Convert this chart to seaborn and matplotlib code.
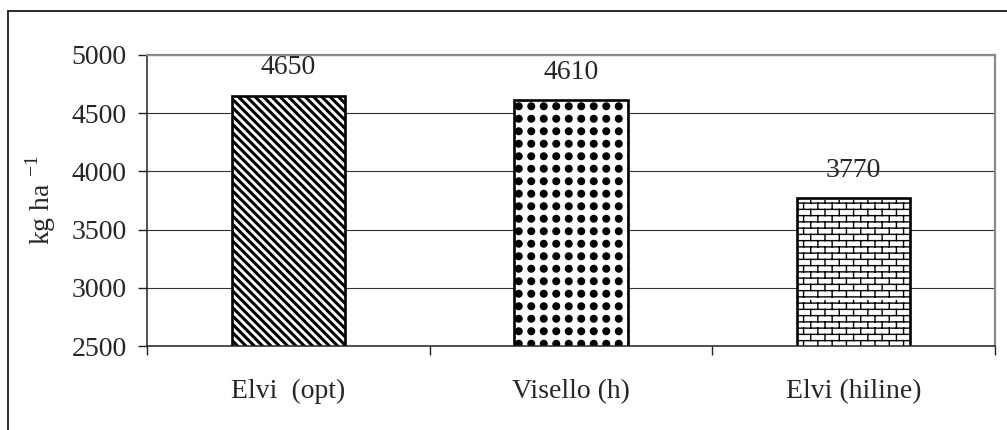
import numpy as np
import pandas as pd
import matplotlib
matplotlib.use("Agg")
import matplotlib.pyplot as plt
import matplotlib.hatch as mhatch
from matplotlib.path import Path
from matplotlib.patches import Rectangle
from matplotlib.ticker import FixedLocator
import seaborn as sns

# ---- data ----
categories = ["Elvi  (opt)", "Visello (h)", "Elvi (hiline)"]
yields = [4650, 4610, 3770]
y_ticks = [2500, 3000, 3500, 4000, 4500, 5000]
y_label = r"kg ha $^{\mathregular{-1}}$"


# ---- custom hatch textures (square dot grid for '.', bricks for '*') ----
class GridDots(mhatch.HatchPatternBase):
    def __init__(self, hatch, density):
        self.n = hatch.count('.') * 4
        circ = Path.unit_circle()
        self.sv = circ.vertices
        self.sc = circ.codes
        self.num_vertices = self.n * self.n * len(self.sv) if self.n else 0

    def set_vertices_and_codes(self, vertices, codes):
        step = 1.0 / self.n
        r = 0.033
        k = len(self.sv)
        idx = 0
        for i in range(self.n):
            for j in range(self.n):
                vertices[idx:idx + k] = self.sv * r + np.array([(i + 0.5) * step, (j + 0.5) * step])
                codes[idx:idx + k] = self.sc
                idx += k


class Bricks(mhatch.HatchPatternBase):
    rows = 16
    cols = 7

    def __init__(self, hatch, density):
        self.on = hatch.count('*') > 0
        self.num_vertices = (self.rows + self.rows * self.cols) * 2 if self.on else 0

    def set_vertices_and_codes(self, vertices, codes):
        h = 1.0 / self.rows
        w = 1.0 / self.cols
        segs = []
        for r in range(self.rows):
            y0 = (r + 0.5) * h
            segs.append(((0.0, y0), (1.0, y0)))
            shift = 0.0 if r % 2 == 0 else w / 2
            for c in range(self.cols):
                x = c * w + shift + w / 4
                segs.append(((x, y0), (x, y0 + h)))
        for i, (a, b) in enumerate(segs):
            vertices[2 * i] = a
            vertices[2 * i + 1] = b
            codes[2 * i] = Path.MOVETO
            codes[2 * i + 1] = Path.LINETO


new_types = []
for t in mhatch._hatch_types:
    if t is mhatch.SmallFilledCircles:
        new_types.append(GridDots)
    elif t is mhatch.Stars:
        new_types.append(Bricks)
    else:
        new_types.append(t)
mhatch._hatch_types[:] = new_types

# ---- style ----
sns.set_style("white")
plt.rcParams["font.family"] = ["Liberation Serif", "DejaVu Serif"]
plt.rcParams["mathtext.fontset"] = "custom"
plt.rcParams["mathtext.rm"] = "Liberation Serif"
plt.rcParams["hatch.color"] = "black"
plt.rcParams["hatch.linewidth"] = 1.0

fig = plt.figure(figsize=(10.07, 4.30), dpi=100)
ax = fig.add_axes([147 / 1007, 1 - 346 / 430, (995 - 147) / 1007, (346 - 55) / 430])

df = pd.DataFrame({"cat": categories, "val": yields})
sns.barplot(data=df, x="cat", y="val", ax=ax, color="white", edgecolor="black",
            linewidth=1.9, width=0.4, saturation=1)

hatches = ["\\\\\\\\", "..", "*"]
hatch_lw = [2.2, 1.0, 1.0]
for patch, h, lw in zip(ax.patches, hatches, hatch_lw):
    patch.set_facecolor("white")
    patch.set_hatch(h)
    if hasattr(patch, "set_hatch_linewidth"):
        patch.set_hatch_linewidth(lw)

for cont in ax.containers:
    ax.bar_label(cont, fmt="%d", padding=11, fontsize=20)

ax.set_ylim(y_ticks[0], y_ticks[-1])
ax.set_xlim(-0.5, len(categories) - 0.5)
ax.set_yticks(y_ticks)
ax.set_yticklabels([str(v) for v in y_ticks])
ax.yaxis.grid(True, color="#333333", linewidth=0.8)
ax.set_axisbelow(True)

ax.set_xticks(range(len(categories)))
ax.set_xticklabels(categories)
ax.xaxis.set_minor_locator(FixedLocator(np.arange(-0.5, len(categories), 1.0)))
ax.tick_params(axis="x", which="major", length=0, pad=24, labelsize=20)
ax.tick_params(axis="x", which="minor", length=6.5, width=1.0, direction="out",
               color="#222222", bottom=True)
ax.tick_params(axis="y", which="major", length=6.5, width=1.0, direction="out",
               color="#222222", left=True, pad=8, labelsize=20)

ax.set_xlabel("")
ax.set_ylabel(y_label, fontsize=20, labelpad=10)

for side in ["left", "bottom"]:
    ax.spines[side].set_color("#222222")
    ax.spines[side].set_linewidth(1.1)
for side in ["top", "right"]:
    ax.spines[side].set_visible(True)
    ax.spines[side].set_color("#8a8a8a")
    ax.spines[side].set_linewidth(1.6)

border = Rectangle((8 / 1007, -0.1), 1.2, 1 - 11 / 430 + 0.1, transform=fig.transFigure,
                   fill=False, edgecolor="#1a1a1a", linewidth=1.3, clip_on=False)
fig.add_artist(border)

fig.savefig("out.png", dpi=100, facecolor="white")
